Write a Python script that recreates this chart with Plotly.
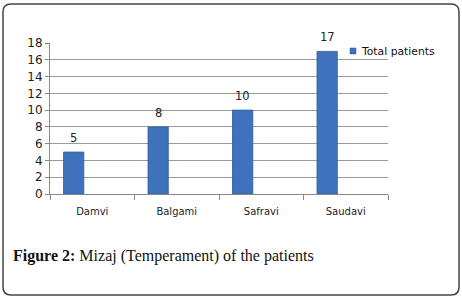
import plotly.graph_objects as go

categories = ["Damvi", "Balgami", "Safravi", "Saudavi"]
values = [5, 8, 10, 17]
series_name = "Total patients"
y_ticks = list(range(0, 19, 2))

W, H = 462, 298
L, R, T, B = 50, 74, 43, 104
pw, ph = W - L - R, H - T - B
BAR_W, BAR_OFF = 0.24, -0.34

def px(x):
    return (x - L) / pw

def py(y):
    return (H - B - y) / ph

fig = go.Figure()
fig.add_trace(go.Bar(
    x=categories, y=values, name=series_name,
    width=BAR_W, offset=BAR_OFF,
    marker=dict(color="#3E72BC", line=dict(color="#2A5A9E", width=0.8)),
    showlegend=False,
))

# data labels above the bars
for i, v in enumerate(values):
    fig.add_annotation(x=i + BAR_OFF + BAR_W / 2, y=v, text=str(v), showarrow=False,
                       yanchor="middle", yshift=14,
                       font=dict(family="DejaVu Sans", size=11.5, color="#222"))

# rounded frame
x0, y0, x1, y1, r = 3, 4, 459, 295, 8
path = (f"M {px(x0+r)},{py(y0)} L {px(x1-r)},{py(y0)} Q {px(x1)},{py(y0)} {px(x1)},{py(y0+r)} "
        f"L {px(x1)},{py(y1-r)} Q {px(x1)},{py(y1)} {px(x1-r)},{py(y1)} "
        f"L {px(x0+r)},{py(y1)} Q {px(x0)},{py(y1)} {px(x0)},{py(y1-r)} "
        f"L {px(x0)},{py(y0+r)} Q {px(x0)},{py(y0)} {px(x0+r)},{py(y0)} Z")
fig.add_shape(type="path", path=path, xref="paper", yref="paper",
              line=dict(color="#444", width=1.5))

# legend symbol + text
fig.add_shape(type="rect", xref="paper", yref="paper",
              x0=px(350), x1=px(356), y0=py(54), y1=py(48),
              fillcolor="#3E72BC", line=dict(color="#2A5A9E", width=0.5))
fig.add_annotation(text=series_name, xref="paper", yref="paper",
                   x=px(359), y=py(51), xanchor="left", yanchor="middle",
                   showarrow=False, font=dict(family="DejaVu Sans", size=10.8, color="#111"))

# caption
fig.add_annotation(text="<b>Figure 2:</b> Mizaj (Temperament) of the patients",
                   xref="paper", yref="paper", x=px(11), y=py(256),
                   xanchor="left", yanchor="middle", showarrow=False,
                   font=dict(family="Liberation Serif", size=16, color="#111"))

fig.update_layout(
    width=W, height=H,
    margin=dict(l=L, r=R, t=T, b=B),
    paper_bgcolor="white", plot_bgcolor="white",
    showlegend=False,
    xaxis=dict(type="category", showline=True, linecolor="#888", linewidth=1,
               ticks="outside", tickson="boundaries", ticklen=5, tickcolor="#888",
               tickfont=dict(family="DejaVu Sans", size=10, color="#222"),
               ticklabelstandoff=8,
               showgrid=False, fixedrange=True),
    yaxis=dict(range=[0, 18], tickvals=y_ticks, showline=True, linecolor="#888",
               linewidth=1, ticks="outside", ticklen=4, tickcolor="#888",
               gridcolor="#9a9a9a", gridwidth=1, zeroline=False,
               tickfont=dict(family="DejaVu Sans", size=12, color="#222"),
               fixedrange=True),
)

fig.write_html("out.html", config={"displayModeBar": False},
               post_script="document.body.style.margin='0';document.body.style.padding='0';")
